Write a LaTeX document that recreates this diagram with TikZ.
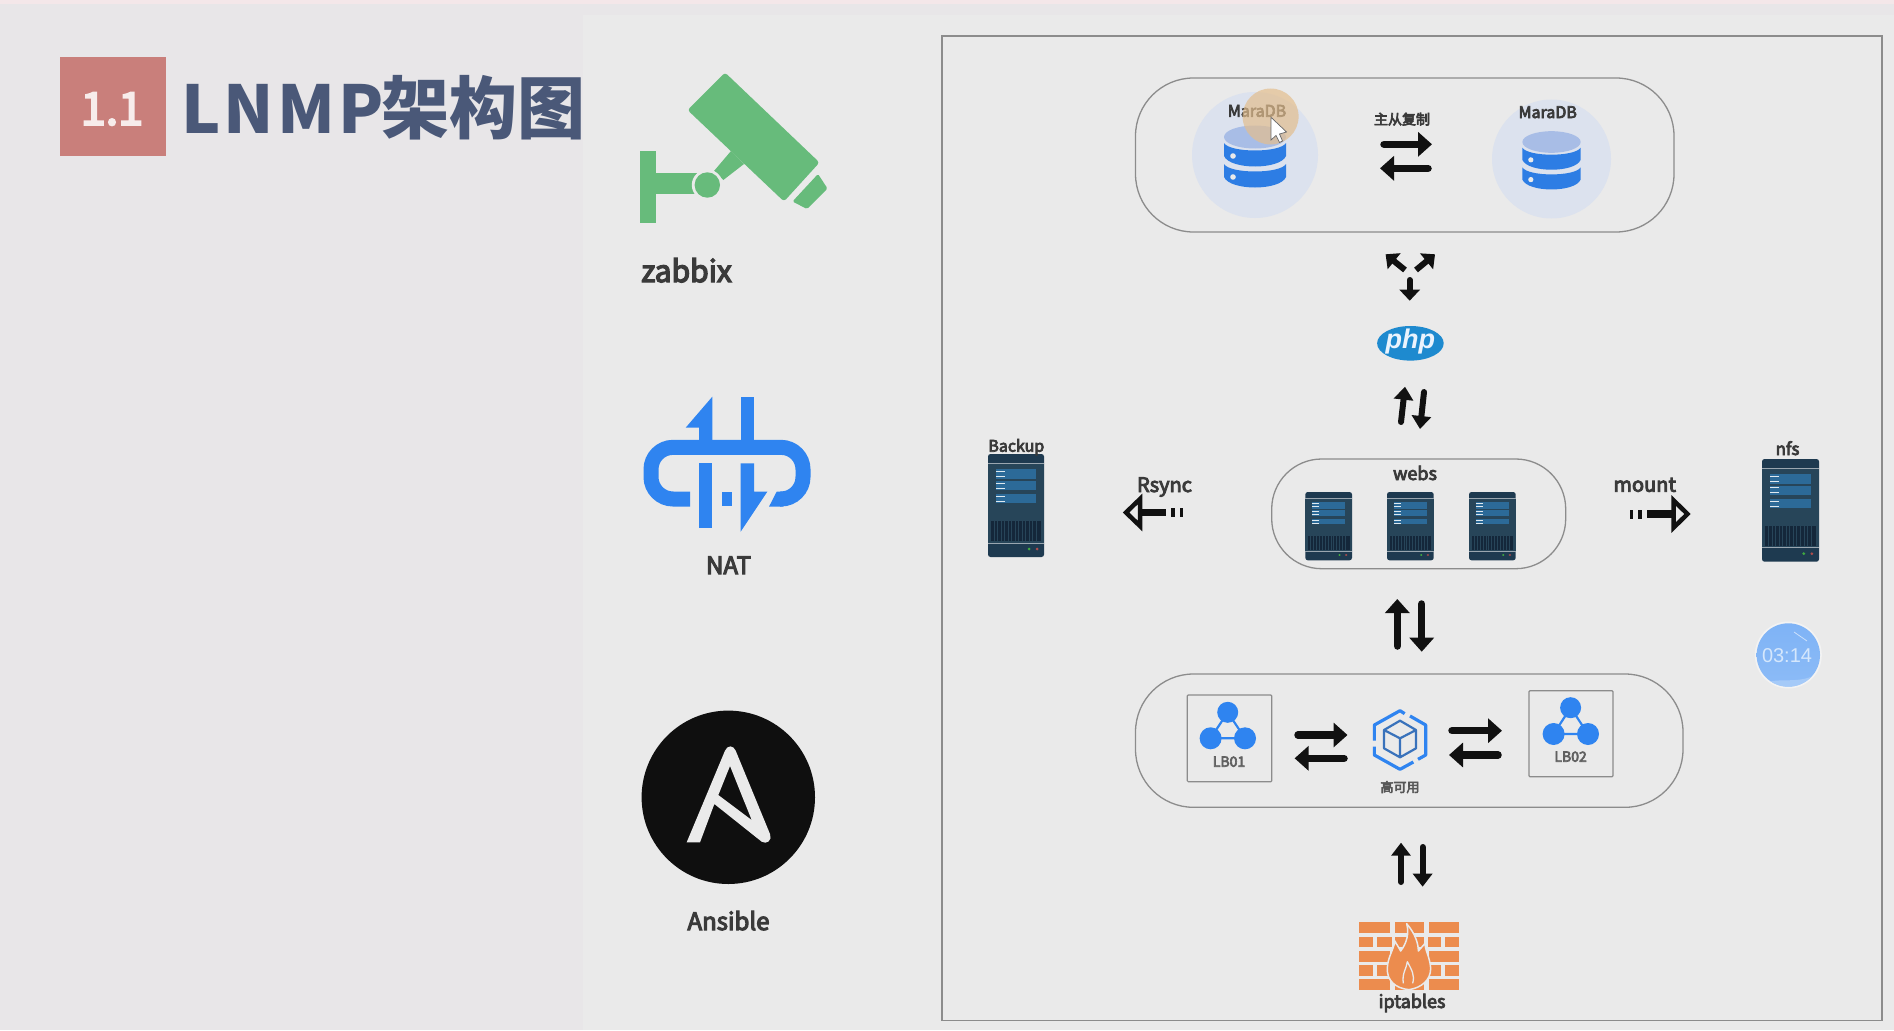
\documentclass[tikz,border=0pt]{standalone}
\usepackage{fontspec}
\usetikzlibrary{arrows.meta,shapes.geometric}
\setmainfont{Noto Sans CJK SC}
\newfontfamily\lib{Liberation Sans}
\newfontfamily\medf[FakeBold=4.5]{Noto Sans CJK SC}
\definecolor{bgL}{HTML}{E8E6E8}
\definecolor{bgR}{HTML}{EAEAEA}
\definecolor{bgTop}{HTML}{F4E7E9}
\definecolor{badge}{HTML}{C97F7B}
\definecolor{titleC}{HTML}{4A5878}
\definecolor{greenC}{HTML}{67BB7B}
\definecolor{blueC}{HTML}{2F84F0}
\definecolor{dbPale}{HTML}{DCE2EE}
\definecolor{dbTop}{HTML}{A8BDE6}
\definecolor{txt}{HTML}{3A3A3A}
\definecolor{frameC}{HTML}{8C8C8C}
\definecolor{arrowC}{HTML}{111111}
\definecolor{brick}{HTML}{EC8C4E}
\definecolor{srvA}{HTML}{1E3A50}
\definecolor{srvB}{HTML}{274559}
\definecolor{srvC}{HTML}{2C6A98}
\definecolor{srvD}{HTML}{14273A}
\definecolor{glow}{HTML}{E3BE8E}
\tikzset{
  lbl/.style={inner sep=0pt,anchor=base,text=txt,font=\medf\fontsize{#1}{#1}\selectfont},
  pill/.style={draw=frameC,line width=1.3pt,rounded corners=#1,inner sep=0pt},
  bigarrow/.style={draw=arrowC,line width=7.5pt,line cap=round,-{Triangle[length=14pt,width=24pt]}},
  midarrow/.style={draw=arrowC,line width=6pt,line cap=round,-{Triangle[length=13pt,width=19pt]}},
  smallarrow/.style={draw=arrowC,line width=6pt,-{Triangle[length=11pt,width=20pt]}},
  openhead/.style={draw=arrowC,fill=bgR,line width=4.5pt,miter limit=10},
  lbbox/.style={draw=frameC,line width=1.2pt,inner sep=0pt,rounded corners=1pt},
}
% database icon: top disk centre, scale
\newcommand\dbicon[3]{%
 \begin{scope}[shift={(#1,#2)},scale=#3]
  \fill[dbTop] (0,0) ellipse[x radius=31,y radius=11.5];
  \foreach \d in {0,21}{
   \fill[blueC!95!black] (-31,{6+\d}) .. controls (-25,{16+\d}) and (25,{16+\d}) .. (31,{6+\d})
     -- (31,{19+\d}) .. controls (25,{33+\d}) and (-25,{33+\d}) .. (-31,{19+\d}) -- cycle;
   \fill[bgR] (-22,{19+\d}) circle[radius=2.8];
  }
 \end{scope}}
% server icon: left, top, width, height
\newcommand\srv[4]{%
 \begin{scope}[shift={(#1,#2)},xscale={#3/56},yscale={#4/103}]
  \fill[srvA,rounded corners=2.5pt] (0,0) rectangle (56,103);
  \fill[srvB] (0,9) rectangle (56,89);
  \foreach \a/\b in {15/25,27/36,40/49}{\fill[srvC] (8.3,\a) rectangle (48,\b);}
  \foreach \a in {17.3,22.3,29,34,42.3,47.3}{\draw[white!85!srvC,line width=.9pt] (8.3,\a) -- (16.7,\a);}
  \fill[srvD] (3.3,67) rectangle (53,87);
  \foreach \a in {6,9.5,...,51}{\draw[srvB,line width=.35pt] (\a,67) -- (\a,87);}
  \draw[white!55!srvA,line width=.9pt] (0,9) -- (56,9);
  \draw[white!55!srvA,line width=.9pt] (0,89) -- (56,89);
  \fill[green!55!black!75!white] (41,95) circle[radius=1.5];
  \fill[red!55!black!70!white] (49,95) circle[radius=1.5];
 \end{scope}}
% load balancer icon
\newcommand\lbicon[6]{%
 \draw[blueC,line width=2.2pt] (#1,#2) -- (#3,#4) -- (#5,#6) -- cycle;
 \fill[blueC] (#1,#2) circle[radius=10.5];
 \fill[blueC] (#3,#4) circle[radius=11];
 \fill[blueC] (#5,#6) circle[radius=11];}
\begin{document}
\begin{tikzpicture}[x=1pt,y=-1pt]
\useasboundingbox (0,0) rectangle (1894,1030);
% backgrounds
\fill[bgL] (0,0) rectangle (1894,1030);
\fill[bgR] (583,15) rectangle (1894,1030);
\fill[bgTop] (0,0) rectangle (1894,4);
% title
\node[fill=badge,inner sep=0pt,minimum width=106pt,minimum height=99pt] (badgebox) at (113,106.5) {};
\node[inner sep=0pt,text=white!85!badge,font=\medf\fontsize{45}{45}\selectfont] (badgetxt) at (112,109) {1.1};
\begin{scope}
 \clip (170,60) rectangle (583,150);
 \node[inner sep=0pt,anchor=base west,text=titleC,font=\bfseries\fontsize{66}{66}\selectfont] (titleA) at (181,133) {\addfontfeature{LetterSpace=5}LNMP};
 \node[inner sep=0pt,anchor=base west,text=titleC,font=\bfseries\fontsize{68}{68}\selectfont] (titleB) at (381,133) {架构图};
\end{scope}
% camera
\fill[greenC,rounded corners=3pt] (725,72.5) -- (819.5,162.5) -- (784,201.5) -- (687.5,110) -- cycle;
\fill[greenC,rounded corners=1.5pt] (818,174) -- (827.5,188.5) -- (807,209) -- (792.5,201.5) -- cycle;
\fill[greenC] (714,171) -- (731,151) -- (744,164) -- (723.3,180) -- cycle;
\fill[greenC] (640,150.7) rectangle (656,222.7);
\fill[greenC] (656,173) rectangle (697,194);
\fill[bgR] (707.3,185) circle[radius=15.5];
\fill[greenC] (707.3,185) circle[radius=12.7];
\node[lbl=30] (zabbix) at (686.5,282) {zabbix};
% NAT
\begin{scope}[shift={(620,380)},scale=1/3]
 \fill[blueC] (277,50) -- (277,190) -- (237,190) -- (237,143) -- (197,143) -- cycle;
 \fill[blueC] (362,50) rectangle (402,190);
 \draw[blueC,line width=15pt,rounded corners=22pt] (210,357) -- (93,357) -- (93,202) -- (549,202) -- (549,357) -- (480,357);
 \fill[blueC] (470,335) -- (490,335) -- (490,380) -- (447,380) -- cycle;
 \fill[blueC] (237,250) rectangle (277,443);
 \fill[blueC] (305,335) rectangle (335,378);
 \fill[blueC] (362,250) -- (402,250) -- (402,335) -- (442,335) -- (362,455) -- cycle;
\end{scope}
\node[lbl=24] (nat) at (728.5,574) {NAT};
% Ansible
\fill[arrowC!90!black] (728.3,797.3) circle[radius=86.7];
\begin{scope}[shift={(620,680)},scale=1/3]
 \fill[bgR,even odd rule] (200,487) -- (240,487) -- (283,372) -- (425,485) .. controls (440,495) and (458,480) .. (450,462)
   -- (347,212) .. controls (340,195) and (322,195) .. (315,212) -- cycle
   (330,258) -- (395,420) -- (295,345) -- cycle;
\end{scope}
\node[lbl=24] (ansible) at (728.5,930) {Ansible};
% frame
\draw[frameC,line width=1.5pt] (942,36) rectangle (1882,1020.5);
% DB pill
\node[pill=58pt,minimum width=538.5pt,minimum height=154pt] (dbpill) at (1404.75,155) {};
\fill[dbPale] (1255,155) circle[radius=63];
\fill[dbPale] (1551.5,159) circle[radius=59.5];
\dbicon{1255}{137}{1}
\dbicon{1551.5}{142}{.94}
\node[lbl=16] (db1) at (1257,116.7) {MaraDB};
\node[lbl=16] (db2) at (1547.7,118) {MaraDB};
\node[lbl=14] (repl) at (1402,124.5) {主从复制};
\fill[glow,opacity=.7] (1270.6,116.5) circle[radius=28];
\draw[gray!80!black,fill=white,line width=.7pt] (1271,117.3) -- (1271,140) -- (1276,135.5) -- (1279.5,142.5) -- (1282.5,141) -- (1279.5,134) -- (1286.5,132) -- cycle;
\coordinate (ra1) at (1384,144.3); \coordinate (rb1) at (1432,144.3);
\coordinate (ra2) at (1428,168.3); \coordinate (rb2) at (1380,168.3);
\draw[bigarrow] (ra1) -- (rb1);
\draw[bigarrow] (ra2) -- (rb2);
% three way arrows
\coordinate (tc1) at (1405,270); \coordinate (tn1) at (1385.6,254.3);
\coordinate (tc2) at (1416,270); \coordinate (tn2) at (1435,254.3);
\coordinate (tc3) at (1409.7,280); \coordinate (tn3) at (1409.7,300.7);
\draw[smallarrow] (tc1) -- (tn1);
\draw[smallarrow] (tc2) -- (tn2);
\draw[smallarrow,line cap=round] (tc3) -- (tn3);
% php
\node[ellipse,fill=blueC!75!cyan!85!black,minimum width=66.6pt,minimum height=34.6pt,inner sep=0pt] (php) at (1410.4,343.3) {};
\node[inner sep=0pt,text=white!90!blueC,font=\lib\bfseries\itshape\fontsize{27}{27}\selectfont] (phptxt) at (1410.4,342) {php};
% php-webs arrows
\coordinate (pa1) at (1401,422); \coordinate (pb1) at (1405,386.7);
\coordinate (pa2) at (1424,392); \coordinate (pb2) at (1420,429);
\draw[midarrow] (pa1) -- (pb1);
\draw[midarrow] (pa2) -- (pb2);
% webs
\node[pill=50pt,minimum width=294pt,minimum height=109.7pt] (webs) at (1418.7,513.85) {};
\node[lbl=18] (websT) at (1415,480) {webs};
\srv{1305.3}{492}{46.7}{68.3}
\srv{1387}{492}{46.7}{68.3}
\srv{1469}{492}{46.7}{68.3}
% Backup
\srv{988}{454}{56}{103}
\node[lbl=16] (backup) at (1016.3,451.7) {Backup};
\node[lbl=20] (rsync) at (1164.5,492) {Rsync};
\draw[openhead] (1126,512.5) -- (1140,499) -- (1140,526) -- cycle;
\fill[arrowC] (1141,508.8) rectangle (1166,516.2);
\fill[arrowC] (1171,507.5) rectangle (1175,516.5);
\fill[arrowC] (1180,507.5) rectangle (1183.3,516.5);
% nfs
\srv{1762}{459}{57}{102.7}
\node[lbl=17] (nfs) at (1787.5,455) {nfs};
\node[lbl=20] (mount) at (1644.7,491.7) {mount};
\draw[openhead] (1687.5,514) -- (1673.7,500.5) -- (1673.7,527.5) -- cycle;
\fill[arrowC] (1646.7,510.3) rectangle (1671.7,517.7);
\fill[arrowC] (1630,509.5) rectangle (1633.3,518.5);
\fill[arrowC] (1638,509.5) rectangle (1641.7,518.5);
% timer
\fill[white!40!bgR] (1788.3,655) circle[radius=33.5];
\begin{scope}
 \clip (1788.3,655) circle[radius=31.7];
 \shade[top color=blueC!62!white,bottom color=blueC!55!white] (1750,620) rectangle (1830,690);
 \fill[blueC!40!white,opacity=.8] (1760,684) .. controls (1780,676) and (1800,686) .. (1820,672) -- (1825,695) -- (1756,695) -- cycle;
\end{scope}
\draw[white,opacity=.6,line width=.8pt] (1794,632) -- (1807,641);
\node[inner sep=0pt,text=white!80!blueC,font=\lib\fontsize{20}{20}\selectfont] (timer) at (1787,655.5) {03:14};
% webs-LB arrows
\coordinate (wa1) at (1397.3,646); \coordinate (wb1) at (1397.3,599);
\coordinate (wa2) at (1421.7,604); \coordinate (wb2) at (1421.7,651.7);
\draw[bigarrow] (wa1) -- (wb1);
\draw[bigarrow] (wa2) -- (wb2);
% LB pill
\node[pill=58pt,minimum width=547.5pt,minimum height=133.3pt] (lbpill) at (1409.25,740.65) {};
\node[lbbox,minimum width=84.4pt,minimum height=86.7pt] (lb1box) at (1229.5,738.35) {};
\node[lbbox,minimum width=84pt,minimum height=86pt] (lb2box) at (1571,733.7) {};
\lbicon{1227.7}{712.3}{1210.6}{738.3}{1245}{738.3}
\lbicon{1570.6}{707.7}{1553.6}{734}{1588}{734}
\node[lbl=14,text=txt!80!white] (lb1) at (1229,766.7) {LB01};
\node[lbl=14,text=txt!80!white] (lb2) at (1570.6,761.7) {LB02};
\coordinate (la1) at (1298,735); \coordinate (lb1e) at (1347.5,735);
\coordinate (la2) at (1344,758.3); \coordinate (lb2e) at (1294.6,758.3);
\coordinate (ma1) at (1452,730.7); \coordinate (mb1) at (1502,730.7);
\coordinate (ma2) at (1498,755); \coordinate (mb2) at (1449,755);
\draw[bigarrow] (la1) -- (lb1e);
\draw[bigarrow] (la2) -- (lb2e);
\draw[bigarrow] (ma1) -- (mb1);
\draw[bigarrow] (ma2) -- (mb2);
% cube
\begin{scope}[shift={(1360,700)},scale=1/3]
 \draw[blueC,line width=3.2pt,line join=round]
   (43,122) -- (43,75) -- (120,32) -- (134,41);
 \draw[blueC,line width=3.2pt,line join=round]
   (150,48) -- (197,75) -- (197,165) -- (174,178);
 \draw[blueC,line width=3.2pt,line join=round]
   (43,140) -- (43,165) -- (120,208) -- (160,186);
 \draw[blueC!75!black!90,line width=2.2pt,line join=round]
   (120,62) -- (168,90) -- (168,145) -- (120,172) -- (72,145) -- (72,90) -- cycle
   (72,90) -- (120,115) -- (168,90) (120,115) -- (120,172);
\end{scope}
\node[lbl=13,text=txt!85!white] (ha) at (1400,792) {高可用};
% LB-iptables arrows
\coordinate (ia1) at (1401,882); \coordinate (ib1) at (1401,842.7);
\coordinate (ia2) at (1422.6,847); \coordinate (ib2) at (1422.6,886.7);
\draw[midarrow] (ia1) -- (ib1);
\draw[midarrow] (ia2) -- (ib2);
% firewall
\begin{scope}[shift={(1350,915)},scale=1/3]
 \foreach \a/\b/\c/\d in {27/120/22/55,135/222/22/55,237/328/22/55,
   27/68/65/97,80/125/65/97,135/222/65/97,235/272/65/97,285/328/65/97,
   27/120/107/140,135/222/107/140,237/328/107/140,
   27/68/150/182,80/125/150/182,135/222/150/182,235/272/150/182,285/328/150/182,
   27/120/192/225,135/222/192/225,237/328/192/225}
   {\fill[brick] (\a,\c) rectangle (\b,\d);}
 \draw[bgR,fill=brick,line width=1.5pt,line join=round]
   (170,26) .. controls (195,55) and (205,85) .. (205,108) -- (226,84)
   .. controls (222,100) and (240,125) .. (242,160) .. controls (242,195) and (215,218) .. (177,224)
   .. controls (135,220) and (110,195) .. (112,160) .. controls (112,130) and (130,105) .. (135,78)
   .. controls (140,90) and (148,98) .. (152,108) .. controls (170,85) and (178,55) .. (170,26) -- cycle;
 \draw[bgR,line width=1.3pt,line join=round] (160,205) .. controls (155,175) and (170,160) .. (172,140) .. controls (185,165) and (195,180) .. (188,205);
\end{scope}
\node[lbl=18] (ipt) at (1412,1008) {iptables};
\end{tikzpicture}
\end{document}
